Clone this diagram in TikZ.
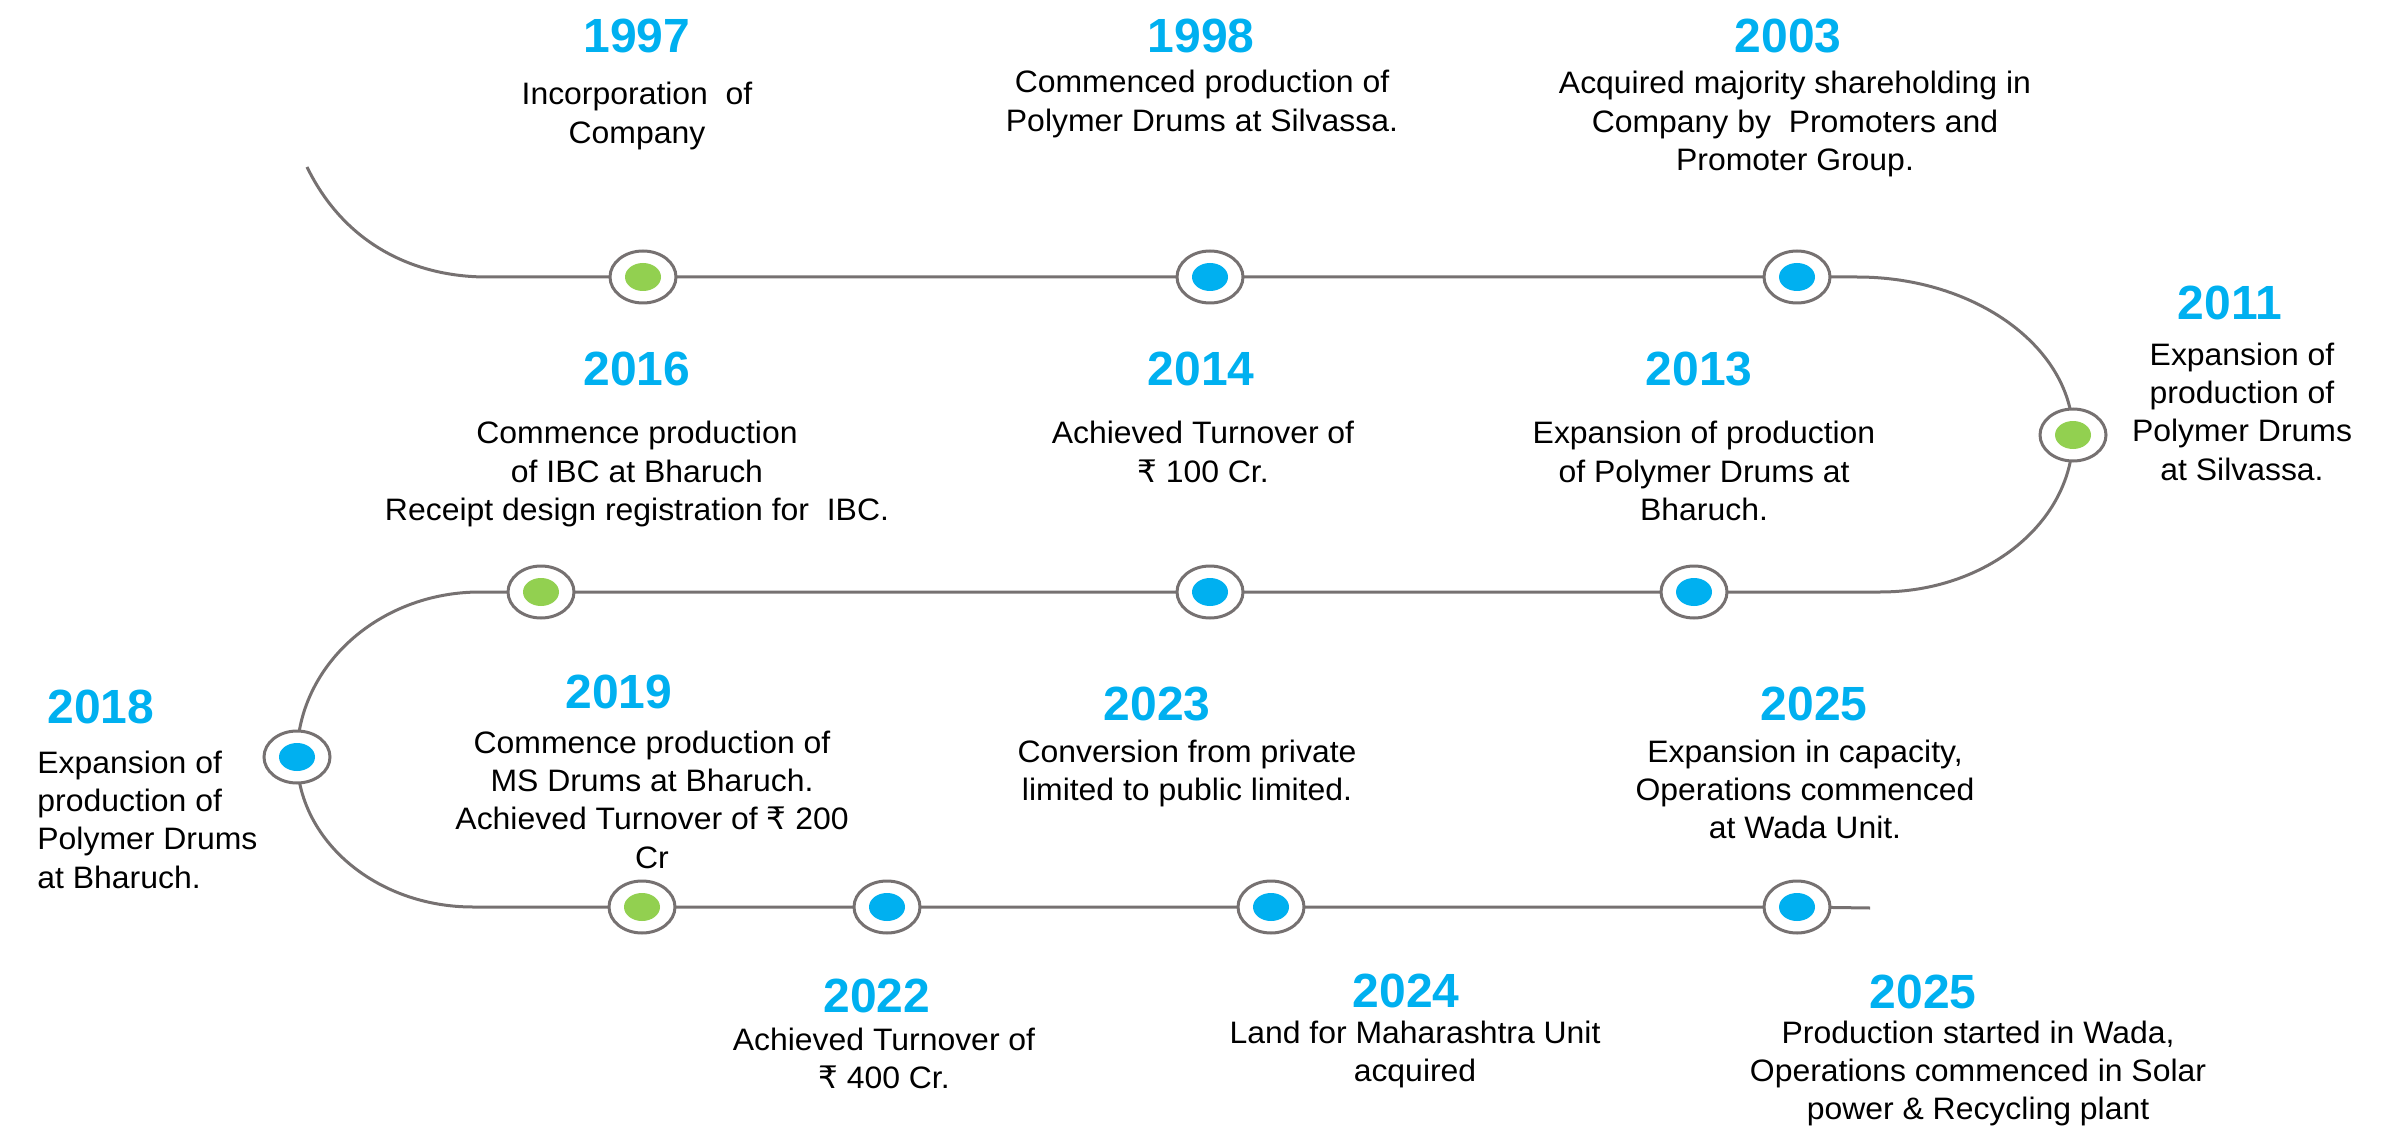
\documentclass[tikz,border=0pt]{standalone}
\usepackage{fontspec}
\setmainfont{Liberation Sans}
\newfontfamily\bodyfont[FakeStretch=1.03]{Liberation Sans}
\newfontfamily\rupeefont{DejaVu Sans}
\usetikzlibrary{shapes.geometric}
\definecolor{yrblue}{HTML}{00B0F0}
\definecolor{mkgreen}{HTML}{92D050}
\definecolor{lngrey}{HTML}{767171}
\newcommand{\Rs}{{\rupeefont ₹}}
\newcommand{\tlines}[2][c]{\begin{tabular}[t]{@{}#1@{}}#2\end{tabular}}
\tikzset{
  yr/.style={anchor=base, inner sep=0pt, text=yrblue, font=\fontsize{24}{29}\selectfont\bfseries},
  desc/.style={anchor=base, inner sep=0pt, font=\bodyfont\fontsize{15.5}{19.2}\selectfont},
  mk/.style={ellipse, draw=lngrey, line width=1.5pt, fill=white, minimum width=33pt, minimum height=26pt, inner sep=0pt,
    path picture={\fill[#1] (path picture bounding box.center) ellipse [x radius=9pt, y radius=7pt];}},
  tl/.style={draw=lngrey, line width=1.5pt}
}
\begin{document}
\begin{tikzpicture}[x=0.5pt, y=-0.5pt]
\useasboundingbox (0,0) rectangle (2381,1128);
% path coordinates
\coordinate (s0) at (307,167);
\coordinate (a1) at (487,277);
\coordinate (p1) at (643,277);
\coordinate (p2) at (1210,277);
\coordinate (p3) at (1797,277);
\coordinate (b1) at (1857,277);
\coordinate (p4) at (2073,435);
\coordinate (b2) at (1880,592);
\coordinate (p5) at (1694,592);
\coordinate (p6) at (1210,592);
\coordinate (p7) at (541,592);
\coordinate (c1) at (480,592);
\coordinate (p8) at (297,757);
\coordinate (c2) at (473,907);
\coordinate (p9) at (642,907);
\coordinate (p10) at (887,907);
\coordinate (p11) at (1271,907);
\coordinate (p12) at (1797,907);
\coordinate (e0) at (1870,908);
% timeline
\draw[tl] (s0) .. controls (345,245) and (415,277) .. (a1) -- (p1) -- (p2) -- (p3) -- (b1)
  .. controls (1976,277) and (2073,348) .. (p4)
  .. controls (2073,522) and (1987,592) .. (b2) -- (p5) -- (p6) -- (p7) -- (c1)
  .. controls (379,592) and (297,666) .. (p8)
  .. controls (297,840) and (376,907) .. (c2) -- (p9) -- (p10) -- (p11) -- (p12) -- (e0);
% markers
\node[mk=mkgreen] (m1997) at (p1) {};
\node[mk=yrblue] (m1998) at (p2) {};
\node[mk=yrblue] (m2003) at (p3) {};
\node[mk=mkgreen] (m2011) at (p4) {};
\node[mk=yrblue] (m2013) at (p5) {};
\node[mk=yrblue] (m2014) at (p6) {};
\node[mk=mkgreen] (m2016) at (p7) {};
\node[mk=yrblue] (m2018) at (p8) {};
\node[mk=mkgreen] (m2019) at (p9) {};
\node[mk=yrblue] (m2022) at (p10) {};
\node[mk=yrblue] (m2024) at (p11) {};
\node[mk=yrblue] (m2025b) at (p12) {};
% years
\node[yr] (y1997) at (637,53) {1997};
\node[yr] (y1998) at (1201,53) {1998};
\node[yr] (y2003) at (1788,53) {2003};
\node[yr] (y2011) at (2230,320) {2011};
\node[yr] (y2016) at (637,386) {2016};
\node[yr] (y2014) at (1201,386) {2014};
\node[yr] (y2013) at (1699,386) {2013};
\node[yr] (y2018) at (101,723) {2018};
\node[yr] (y2019) at (619,708) {2019};
\node[yr] (y2023) at (1157,720) {2023};
\node[yr] (y2025a) at (1814,720) {2025};
\node[yr] (y2022) at (877,1012) {2022};
\node[yr] (y2024) at (1406,1007) {2024};
\node[yr] (y2025b) at (1923,1008) {2025};
% descriptions
\node[desc] (d1997) at (637,105) {\tlines{Incorporation~ of\\Company}};
\node[desc] (d1998) at (1202,93) {\tlines{Commenced production of\\Polymer Drums at Silvassa.}};
\node[desc] (d2003) at (1795,94) {\tlines{Acquired majority shareholding in\\Company by~ Promoters and\\Promoter Group.}};
\node[desc] (d2011) at (2242,365) {\tlines{Expansion of\\production of\\Polymer Drums\\at Silvassa.}};
\node[desc] (d2016) at (637,444) {\tlines{Commence production\\of IBC at Bharuch\\Receipt design registration for~ IBC.}};
\node[desc] (d2014) at (1203,444) {\tlines{Achieved Turnover of\\\Rs{} 100 Cr.}};
\node[desc] (d2013) at (1704,444) {\tlines{Expansion of production\\of Polymer Drums at\\Bharuch.}};
\node[desc, anchor=base west] (d2018) at (37,773) {\tlines[l]{Expansion of\\production of\\Polymer Drums\\at Bharuch.}};
\node[desc] (d2019) at (652,753) {\tlines{Commence production of\\MS Drums at Bharuch.\\Achieved Turnover of \Rs{} 200\\Cr}};
\node[desc] (d2023) at (1187,762) {\tlines{Conversion from private\\limited to public limited.}};
\node[desc] (d2025a) at (1805,762) {\tlines{Expansion in capacity,\\Operations commenced\\at Wada Unit.}};
\node[desc] (d2022) at (884,1050) {\tlines{Achieved Turnover of\\\Rs{} 400 Cr.}};
\node[desc] (d2024) at (1415,1043) {\tlines{Land for Maharashtra Unit\\acquired}};
\node[desc] (d2025b) at (1978,1043) {\tlines{Production started in Wada,\\Operations commenced in Solar\\power \& Recycling plant}};
\end{tikzpicture}
\end{document}
